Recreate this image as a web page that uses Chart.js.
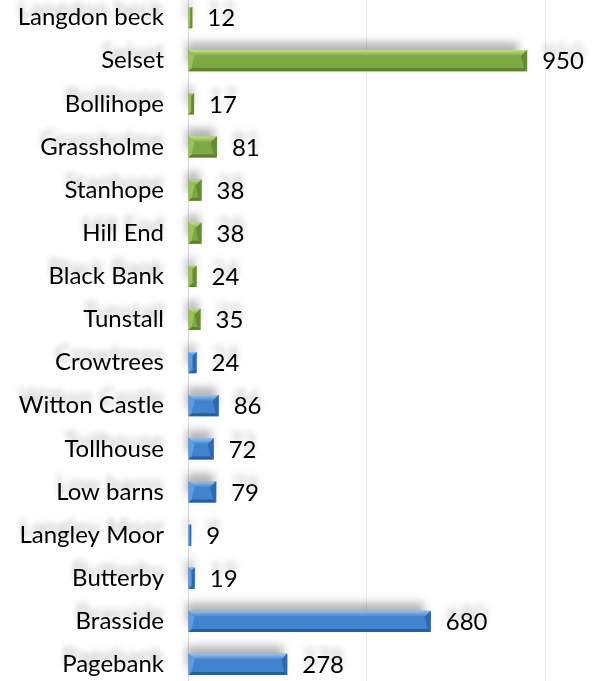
<!DOCTYPE html>
<html>
<head>
<meta charset="utf-8">
<script src="https://cdn.jsdelivr.net/npm/chart.js@4.4.1/dist/chart.umd.min.js"></script>
<style>
    html, body { margin: 0; padding: 0; background: #fff; overflow: hidden; }
    #wrap { position: absolute; left: 0; top: -4px; width: 600px; height: 690px; }
</style>
</head>
<body>
<div id="wrap"><canvas id="sitesChart"></canvas></div>
<script>
// --- data ---
const sites = ["Langdon beck", "Selset", "Bollihope", "Grassholme", "Stanhope", "Hill End",
    "Black Bank", "Tunstall", "Crowtrees", "Witton Castle", "Tollhouse", "Low barns",
    "Langley Moor", "Butterby", "Brasside", "Pagebank"];
const counts = [12, 950, 17, 81, 38, 38, 24, 35, 24, 86, 72, 79, 9, 19, 680, 278];
const groups = ["upper", "upper", "upper", "upper", "upper", "upper", "upper", "upper",
    "lower", "lower", "lower", "lower", "lower", "lower", "lower", "lower"];
const axisTicks = [0, 500, 1000];

// colours for each group: main, top bevel, bottom bevel, left end, right end
const palette = {
    upper: { main: "#7EA843", top: "#BCE280", bottom: "#5D7F2E", left: "#98C25A", right: "#668C33" },
    lower: { main: "#4283D0", top: "#93C6F7", bottom: "#2D5C98", left: "#609CE0", right: "#3068B0" }
};

const FONT = { family: "Lato, 'Open Sans', sans-serif", size: 24 };

// grey blurred ghost behind every bar
const barShadow = {
    id: "barShadow",
    beforeDatasetsDraw(chart) {
        const ctx = chart.ctx;
        ctx.save();
        ctx.filter = "blur(4px)";
        ctx.fillStyle = "rgba(70,70,70,0.4)";
        chart.getDatasetMeta(0).data.forEach(bar => {
            const p = bar.getProps(["x", "y", "base", "height"], true);
            ctx.fillRect(p.base - 2, p.y - p.height / 2 - 8, (p.x - p.base) * 0.98, p.height);
        });
        ctx.restore();
    }
};

// bevel faces drawn over the flat bars
const barBevel = {
    id: "barBevel",
    afterDatasetsDraw(chart) {
        const ctx = chart.ctx;
        chart.getDatasetMeta(0).data.forEach((bar, i) => {
            const p = bar.getProps(["x", "y", "base", "height"], true);
            const c = palette[groups[i]];
            const l = p.base, r = p.x, t = p.y - p.height / 2, b = p.y + p.height / 2;
            const w = Math.min(6, (r - l) / 2, p.height / 2);
            const wb = Math.min(3, w);
            const poly = (pts, fill) => {
                ctx.beginPath();
                ctx.moveTo(pts[0][0], pts[0][1]);
                pts.slice(1).forEach(q => ctx.lineTo(q[0], q[1]));
                ctx.closePath();
                ctx.fillStyle = fill;
                ctx.fill();
            };
            ctx.save();
            const g = ctx.createLinearGradient(0, t, 0, t + w);
            g.addColorStop(0, c.top);
            g.addColorStop(1, c.main);
            poly([[l, t], [r, t], [r - w, t + w], [l + w, t + w]], g);
            poly([[l, b], [r, b], [r - wb, b - wb], [l + wb, b - wb]], c.bottom);
            poly([[l, t], [l + w, t + w], [l + wb, b - wb], [l, b]], c.left);
            poly([[r, t], [r - w, t + w], [r - wb, b - wb], [r, b]], c.right);
            ctx.restore();
        });
        // the category names are drawn after this (ticks.z = 1) with a soft ghost above
        ctx.save();
        ctx.shadowColor = "rgba(0,0,0,0.28)";
        ctx.shadowBlur = 6;
        ctx.shadowOffsetY = -8;
    },
    afterDraw(chart) {
        const ctx = chart.ctx;
        ctx.restore();
        // value labels at the end of each bar
        ctx.save();
        ctx.shadowColor = "rgba(0,0,0,0.25)";
        ctx.shadowBlur = 6;
        ctx.shadowOffsetY = -8;
        ctx.font = FONT.size + "px " + FONT.family;
        ctx.fillStyle = "#000";
        ctx.textBaseline = "middle";
        chart.getDatasetMeta(0).data.forEach((bar, i) => {
            ctx.fillText(String(counts[i]), bar.x + 15, bar.y + 1);
        });
        ctx.restore();
    }
};

new Chart(document.getElementById("sitesChart"), {
    type: "bar",
    data: {
        labels: sites,
        datasets: [{
            data: counts,
            backgroundColor: groups.map(g => palette[g].main),
            borderWidth: 0,
            categoryPercentage: 1,
            barPercentage: 0.49
        }]
    },
    options: {
        indexAxis: "y",
        responsive: true,
        maintainAspectRatio: false,
        animation: false,
        layout: { padding: { left: 0, right: 55, top: 0, bottom: 0 } },
        plugins: { legend: { display: false }, tooltip: { enabled: false } },
        scales: {
            x: {
                min: axisTicks[0],
                max: axisTicks[axisTicks.length - 1],
                afterBuildTicks: scale => { scale.ticks = axisTicks.map(v => ({ value: v })); },
                ticks: { display: false },
                grid: { color: "#ececec", drawTicks: false },
                border: { display: false },
                afterFit: scale => { scale.height = 0; scale.paddingLeft = 0; scale.paddingRight = 0; }
            },
            y: {
                afterFit: scale => { scale.width = 188; scale.paddingTop = 0; scale.paddingBottom = 0; },
                ticks: { color: "#000", font: FONT, padding: 24, autoSkip: false, z: 1 },
                grid: { display: false, drawTicks: false },
                border: { color: "#d9d9d9" }
            }
        }
    },
    plugins: [barShadow, barBevel]
});
</script>
</body>
</html>
